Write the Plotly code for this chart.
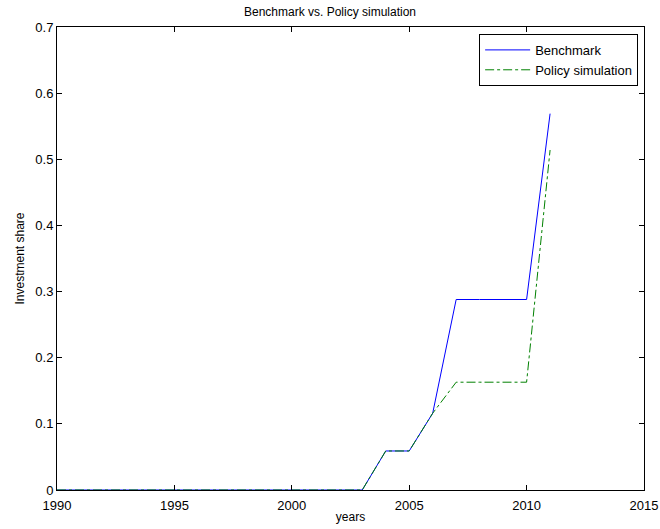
import plotly.graph_objects as go

years = list(range(1990, 2012))
benchmark = [0]*14 + [0.059, 0.059, 0.116, 0.288, 0.288, 0.288, 0.288, 0.569]
policy = [0]*14 + [0.059, 0.059, 0.116, 0.163, 0.163, 0.163, 0.163, 0.514]

x_ticks = [1990, 1995, 2000, 2005, 2010, 2015]
y_ticks = [0, 0.1, 0.2, 0.3, 0.4, 0.5, 0.6, 0.7]
y_labels = ["0", "0.1", "0.2", "0.3", "0.4", "0.5", "0.6", "0.7"]

fig = go.Figure()
fig.add_trace(go.Scatter(x=years, y=benchmark, mode="lines", name="Benchmark",
                         line=dict(color="#0000ff", width=1)))
fig.add_trace(go.Scatter(x=years, y=policy, mode="lines", name="Policy simulation",
                         line=dict(color="#008000", width=1, dash="dashdot")))

font = "Liberation Sans, Arial, Helvetica, sans-serif"
fig.update_layout(
    width=660, height=529,
    margin=dict(l=57, r=16, t=27, b=39),
    paper_bgcolor="white", plot_bgcolor="white",
    font=dict(family=font, size=13, color="black"),
    title=dict(text="Benchmark vs. Policy simulation", x=0.5, xanchor="center",
               y=1 - 12/529, yanchor="middle", font=dict(size=12)),
    showlegend=True,
    legend=dict(x=0.99, y=0.985, xanchor="right", yanchor="top",
                bordercolor="black", borderwidth=1, bgcolor="white",
                font=dict(size=13), tracegroupgap=0, itemwidth=45),
    xaxis=dict(range=[1990, 2015], tickvals=x_ticks, ticktext=[str(t) for t in x_ticks],
               automargin=False,
               showgrid=False, zeroline=False, showline=True, linecolor="black", linewidth=1,
               mirror="ticks", ticks="inside", ticklen=5, tickcolor="black",
               ticklabelstandoff=3,
               title=dict(text="years", font=dict(size=12), standoff=1)),
    yaxis=dict(range=[0, 0.7], tickvals=y_ticks, ticktext=y_labels,
               automargin=False,
               showgrid=False, zeroline=False, showline=True, linecolor="black", linewidth=1,
               mirror="ticks", ticks="inside", ticklen=5, tickcolor="black",
               title=dict(text="Investment share", font=dict(size=12), standoff=8)),
)
fig.write_html("out.html")
